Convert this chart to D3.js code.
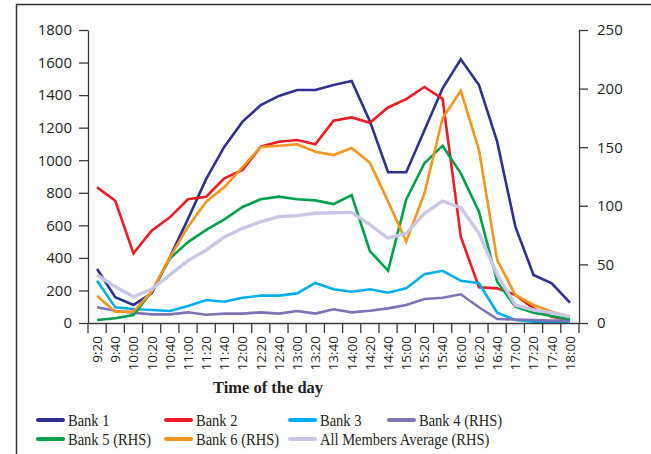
<!DOCTYPE html>
<html>
<head>
<meta charset="utf-8">
<script src="https://cdn.jsdelivr.net/npm/d3@7"></script>
<style>
  body { margin: 0; background: #fff; }
  svg { display: block; }
</style>
</head>
<body>
<svg id="chart" width="651" height="454"></svg>
<script>
const categories = ["9:20","9:40","10:00","10:20","10:40","11:00","11:20","11:40","12:00","12:20","12:40","13:00","13:20","13:40","14:00","14:20","14:40","15:00","15:20","15:40","16:00","16:20","16:40","17:00","17:20","17:40","18:00"];

const bank1 = [332,158,111,182,404,640,885,1083,1237,1339,1395,1431,1431,1462,1487,1240,926,926,1184,1442,1620,1462,1114,592,295,244,125];
const bank2 = [833,751,428,567,649,760,776,889,940,1083,1114,1124,1098,1243,1263,1230,1324,1375,1450,1377,530,219,213,172,90,39,18];
const bank3 = [260,96,86,80,74,104,141,131,155,168,168,182,246,207,192,207,186,213,299,321,260,244,63,18,8,3,3];
const bank4 = [13.4,10.5,8.8,7.4,7.4,9.1,7.1,8,8,9.1,8,10.2,8,11.7,9.1,10.5,12.5,15.4,20.5,21.6,24.5,13.4,3.4,3,2.5,2,2];
const bank5 = [2.6,4,6.8,26.7,55,69,79.4,88.5,99,105.6,107.8,105.6,104.6,101.5,109.2,61.4,44.6,105.5,136.3,151.3,127.7,95,35.2,13.9,8.8,6,3.2];
const bank6 = [23,9.7,9.7,26.7,56,82.2,103.5,116,133,150.2,151.3,152.5,146.2,143.3,149.3,136.8,103.8,69.4,110.7,174.7,198.2,147.6,53.8,23.9,15.4,9.7,5.4];
const average = [41,31,22.4,29,41,53.2,62.3,73.3,80.8,86.4,90.7,91.6,93.6,94.1,94.4,84,72.3,76.5,93.6,104,98.4,76.5,41,15.4,11.1,8.8,5.4];

const leftTicks = [0,200,400,600,800,1000,1200,1400,1600,1800];
const rightTicks = [0,50,100,150,200,250];

const seriesNames = ["Bank 1","Bank 2","Bank 3","Bank 4 (RHS)","Bank 5 (RHS)","Bank 6 (RHS)","All Members Average (RHS)"];
const seriesValues = [bank1,bank2,bank3,bank4,bank5,bank6,average];
const seriesAxis = ["L","L","L","R","R","R","R"];
const seriesColors = ["#2e3192","#ed1c24","#00aeef","#7f72b6","#00a14b","#f7941d","#c9c7e5"];
const seriesWidths = [2.6,2.6,2.6,2.6,2.6,2.6,3.4];

const svg = d3.select("#chart");
const textColor = "#231f20";
const axisColor = "#3a3a3a";
const sansFont = "'Open Sans', 'DejaVu Sans', sans-serif";
const serifFont = "'Liberation Serif', 'DejaVu Serif', serif";

// outer frame
svg.append("path")
  .attr("d", "M16.5,454 L16.5,4.5 L651,4.5")
  .attr("fill", "none").attr("stroke", "#333").attr("stroke-width", 1.5);

const x = d3.scaleBand().domain(categories).range([88, 579]).padding(0);
const yL = d3.scaleLinear().domain([0, 1800]).range([323, 30]);
const yR = d3.scaleLinear().domain([0, 250]).range([323, 30]);

// lines
const lineGen = (scale) => d3.line()
  .x((d, i) => x(categories[i]) + x.bandwidth() / 2)
  .y(d => scale(d))
  .curve(d3.curveLinear);

seriesValues.forEach((vals, k) => {
  svg.append("path")
    .datum(vals)
    .attr("fill", "none")
    .attr("stroke", seriesColors[k])
    .attr("stroke-width", seriesWidths[k])
    .attr("stroke-linejoin", "miter")
    .attr("d", lineGen(seriesAxis[k] === "L" ? yL : yR));
});

// left axis
const gL = svg.append("g").attr("transform", "translate(88,0)")
  .call(d3.axisLeft(yL).tickValues(leftTicks).tickFormat(d3.format("d")).tickSize(9).tickSizeOuter(0).tickPadding(7));
// right axis
const gR = svg.append("g").attr("transform", "translate(579,0)")
  .call(d3.axisRight(yR).tickValues(rightTicks).tickFormat(d3.format("d")).tickSize(9).tickSizeOuter(0).tickPadding(9));
[gL, gR].forEach(g => {
  g.select(".domain").attr("stroke", axisColor).attr("stroke-width", 1.3);
  g.selectAll(".tick line").attr("stroke", axisColor).attr("stroke-width", 1.3);
  g.selectAll(".tick text").attr("fill", textColor).style("font-family", sansFont).style("font-size", "15px");
});

// bottom axis
const gX = svg.append("g").attr("transform", "translate(0,323)")
  .call(d3.axisBottom(x).tickSize(0).tickPadding(0).tickSizeOuter(0));
gX.select(".domain").attr("stroke", axisColor).attr("stroke-width", 1.3);
gX.selectAll(".tick text")
  .attr("transform", "rotate(-90)")
  .attr("x", -13).attr("y", 0).attr("dy", "0.36em")
  .attr("text-anchor", "end")
  .attr("fill", textColor)
  .style("font-family", sansFont).style("font-size", "13.5px");
const boundaries = categories.map(c => x(c)).concat([x.range()[1]]);
gX.selectAll(".bound").data(boundaries).enter().append("line")
  .attr("class", "bound")
  .attr("x1", d => d).attr("x2", d => d)
  .attr("y1", 0).attr("y2", 10)
  .attr("stroke", axisColor).attr("stroke-width", 1.3);

// axis title
svg.append("text")
  .attr("x", 268).attr("y", 393)
  .attr("text-anchor", "middle")
  .attr("fill", textColor)
  .style("font-family", serifFont).style("font-weight", "bold").style("font-size", "16.5px")
  .text("Time of the day");

// legend
const legendPos = [[38,420],[166,420],[290,420],[389,420],[38,439],[166,439],[290,439]];
seriesNames.forEach((name, k) => {
  const [lx, ly] = legendPos[k];
  svg.append("line")
    .attr("x1", lx).attr("x2", lx + 25).attr("y1", ly).attr("y2", ly)
    .attr("stroke", seriesColors[k]).attr("stroke-width", 4).attr("stroke-linecap", "round");
  svg.append("text")
    .attr("transform", `translate(${lx + 30},${ly + 5.5}) scale(0.88,1)`)
    .attr("fill", textColor)
    .style("font-family", serifFont).style("font-size", "16.5px")
    .text(name);
});
</script>
</body>
</html>
